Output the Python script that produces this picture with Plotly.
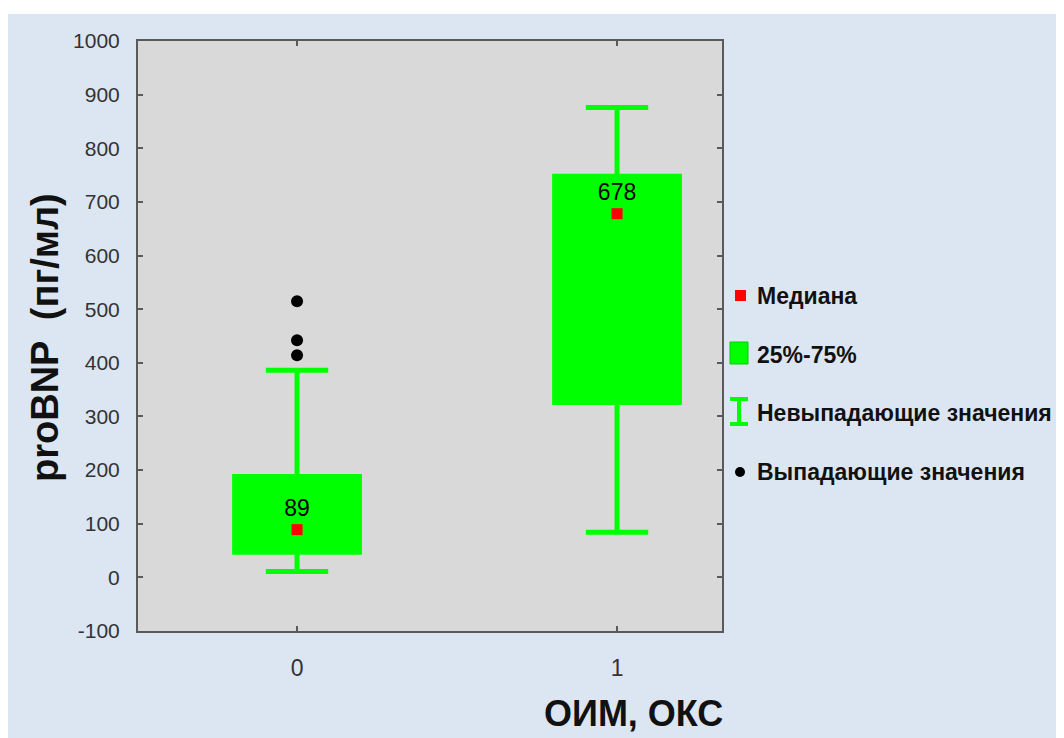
import plotly.graph_objects as go

# ---- data ----
groups = [0, 1]
q1 = [47, 326]
median = [89, 678]
q3 = [188, 748]
lower_whisker = [11, 84]
upper_whisker = [386, 876]
median_labels = ["89", "678"]
outlier_x = [0, 0, 0]
outlier_y = [515, 442, 414]
y_ticks = [-100, 0, 100, 200, 300, 400, 500, 600, 700, 800, 900, 1000]
y_tick_text = ["-100", "0", "100", "200", "300", "400", "500", "600", "700", "800", "900", "1000"]
x_ticks = [0, 1]
x_tick_text = ["0", "1"]
legend_labels = ["Медиана", "25%-75%", "Невыпадающие значения", "Выпадающие значения"]
y_title = "proBNP  (пг/мл)"
x_title = "ОИМ, ОКС"

GREEN = "#00ff00"
FONT = "Liberation Sans, Arial, sans-serif"

OFF = 8  # browser body margin
PAGE_W, PAGE_H = 1064, 738
W, H = PAGE_W - OFF, PAGE_H - OFF
L, R, T, B = 138, 722, 41, 631  # plot area in page pixels


def px_x(p):
    return (p - L) / (R - L)


def px_y(p):
    return (B - p) / (B - T)


fig = go.Figure()

fig.add_trace(go.Box(
    x=groups, q1=q1, median=median, q3=q3,
    lowerfence=lower_whisker, upperfence=upper_whisker,
    width=0.39, whiskerwidth=0.5,
    fillcolor=GREEN, line=dict(color=GREEN, width=5),
    boxpoints=False, showlegend=False, hoverinfo="skip",
))

fig.add_trace(go.Scatter(
    x=outlier_x, y=outlier_y, mode="markers",
    marker=dict(symbol="circle", size=12, color="black"),
    showlegend=False, hoverinfo="skip",
))

fig.add_trace(go.Scatter(
    x=groups, y=median, mode="markers+text",
    text=median_labels, textposition="top center",
    textfont=dict(family=FONT, size=23, color="black"),
    marker=dict(symbol="square", size=11, color="#ff0000"),
    showlegend=False, hoverinfo="skip",
))

fig.update_xaxes(
    range=[-0.497, 1.328], tickvals=x_ticks, ticktext=x_tick_text,
    showgrid=False, zeroline=False, showline=True, linecolor="#5a5a5a", linewidth=2,
    mirror="ticks", ticks="inside", ticklen=5, tickcolor="#5a5a5a", tickwidth=1.5,
    tickfont=dict(family=FONT, size=23, color="#333333"), ticklabelstandoff=15,
)
fig.update_yaxes(
    range=[-100, 1000], tickvals=y_ticks, ticktext=y_tick_text,
    showgrid=False, zeroline=False, showline=True, linecolor="#5a5a5a", linewidth=2,
    mirror="ticks", ticks="inside", ticklen=5, tickcolor="#5a5a5a", tickwidth=1.5,
    tickfont=dict(family=FONT, size=21, color="#333333"), ticklabelstandoff=12,
)

shapes = []
# white top page edge
shapes.append(dict(type="rect", xref="paper", yref="paper", x0=px_x(-20), x1=px_x(1090),
                   y0=px_y(14), y1=px_y(-20), fillcolor="white", line=dict(width=0), layer="above"))

# legend symbols
shapes.append(dict(type="rect", xref="paper", yref="paper", x0=px_x(735), x1=px_x(746),
                   y0=px_y(301), y1=px_y(290), fillcolor="#ff0000", line=dict(width=0)))
shapes.append(dict(type="rect", xref="paper", yref="paper", x0=px_x(730), x1=px_x(748),
                   y0=px_y(364), y1=px_y(342), fillcolor=GREEN, line=dict(color="#00d000", width=1)))
shapes.append(dict(type="rect", xref="paper", yref="paper", x0=px_x(730), x1=px_x(748),
                   y0=px_y(401), y1=px_y(397), fillcolor=GREEN, line=dict(width=0)))
shapes.append(dict(type="rect", xref="paper", yref="paper", x0=px_x(737), x1=px_x(741),
                   y0=px_y(424), y1=px_y(399), fillcolor=GREEN, line=dict(width=0)))
shapes.append(dict(type="rect", xref="paper", yref="paper", x0=px_x(730), x1=px_x(748),
                   y0=px_y(426), y1=px_y(422), fillcolor=GREEN, line=dict(width=0)))
shapes.append(dict(type="circle", xref="paper", yref="paper", x0=px_x(735), x1=px_x(745),
                   y0=px_y(477), y1=px_y(467), fillcolor="black", line=dict(width=0)))

annotations = []
for lbl, cy in zip(legend_labels, [296, 355, 413, 472]):
    annotations.append(dict(
        text="<b>%s</b>" % lbl, xref="paper", yref="paper", x=px_x(755), y=px_y(cy),
        xanchor="left", yanchor="middle", showarrow=False,
        font=dict(family=FONT, size=23, color="#111111"),
    ))
annotations.append(dict(
    text="<b>%s</b>" % x_title, xref="paper", yref="paper", x=px_x(633), y=px_y(713),
    xanchor="center", yanchor="middle", showarrow=False,
    font=dict(family=FONT, size=36, color="#111111"),
))
annotations.append(dict(
    text="<b>%s</b>" % y_title, xref="paper", yref="paper", x=px_x(45), y=px_y(338),
    xanchor="center", yanchor="middle", showarrow=False, textangle=-90,
    font=dict(family=FONT, size=38, color="#111111"),
))

fig.update_layout(
    width=W, height=H,
    margin=dict(l=L - OFF, r=PAGE_W - R, t=T - OFF, b=PAGE_H - B, pad=0),
    paper_bgcolor="#dce6f2", plot_bgcolor="#d9d9d9",
    shapes=shapes, annotations=annotations, showlegend=False,
)

fig.write_html("out.html")
